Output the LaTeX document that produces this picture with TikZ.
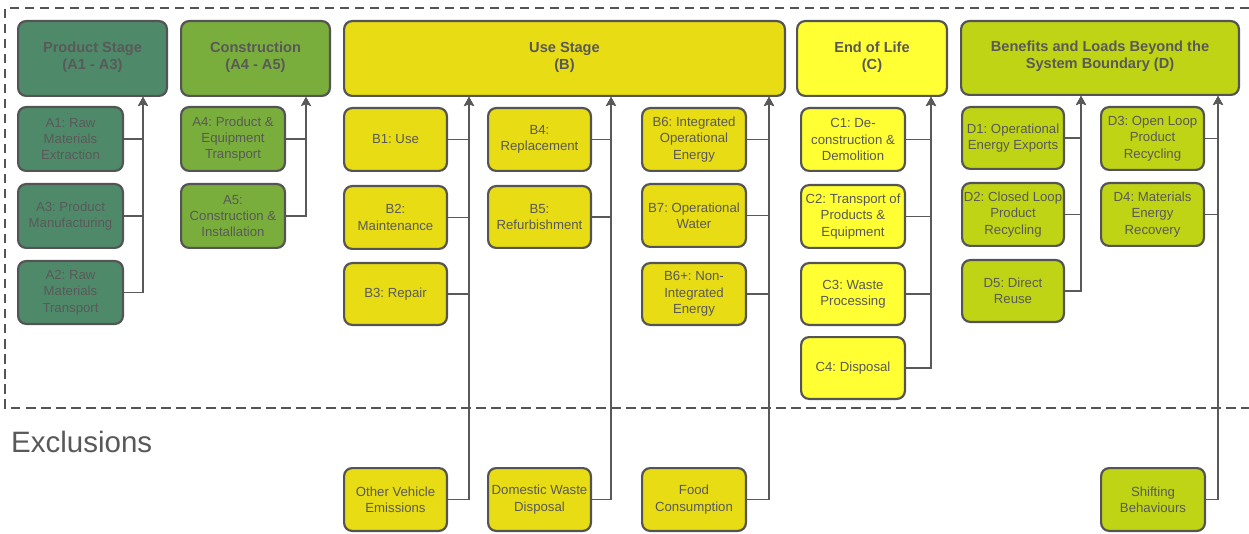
\documentclass[tikz,border=0pt]{standalone}
\usepackage{fontspec}
\setmainfont{Liberation Sans}
\usetikzlibrary{arrows.meta}
\frenchspacing
\definecolor{txt}{HTML}{595959}
\definecolor{edge}{HTML}{545454}
\definecolor{prod}{HTML}{4E8A6A}
\definecolor{cons}{HTML}{7AAE3C}
\definecolor{use}{HTML}{E8DC14}
\definecolor{eol}{HTML}{FFFF33}
\definecolor{ben}{HTML}{BFD414}
\newcommand\mybox[7]{%
  \pgfmathsetmacro\mbcx{(#2+#4)/2}%
  \pgfmathsetmacro\mbcy{(#3+#5)/2}%
  \pgfmathsetmacro\mbw{#4-#2-2.2}%
  \pgfmathsetmacro\mbh{#5-#3-2.2}%
  \node[#6,minimum width=\mbw pt,minimum height=\mbh pt] (#1) at (\mbcx,\mbcy) {#7};}
\tikzset{
  boxbase/.style={draw=edge,line width=2.2pt,rounded corners=8pt,align=center,text=txt,inner sep=1pt},
  item/.style={boxbase,font=\fontsize{13.2}{16.3}\selectfont},
  head/.style={boxbase,font=\bfseries\fontsize{14.6}{17}\selectfont,yshift=0pt},
  conn/.style={draw=txt,line width=1.1pt,-{Stealth[length=9pt,width=10pt,inset=2pt]}},
  bound/.style={draw=edge,line width=2.3pt,dash pattern=on 9.5pt off 5.5pt},
}
\begin{document}
\begin{tikzpicture}[x=1pt,y=-1pt]
\useasboundingbox (0,0) rectangle (1249,534);
% boundary
\draw[bound] (1249,8) -- (5,8) -- (5,408) -- (1249,408);
\node[anchor=base west,text=txt,font=\fontsize{29.5}{34}\selectfont,inner sep=0pt] (excl) at (11,452.5) {Exclusions};
% headers
\mybox{PS}{17}{20}{168}{97}{head,fill=prod}{Product Stage\\(A1 - A3)\rule[-6pt]{0pt}{6pt}}
\mybox{CO}{180}{20}{331}{97}{head,fill=cons}{Construction\\(A4 - A5)\rule[-6pt]{0pt}{6pt}}
\mybox{US}{343}{20}{786}{97}{head,fill=use}{Use Stage\\(B)\rule[-6pt]{0pt}{6pt}}
\mybox{EL}{796}{20}{948}{97}{head,fill=eol}{End of Life\\(C)\rule[-6pt]{0pt}{6pt}}
\mybox{BD}{960}{20}{1240}{96}{head,fill=ben}{Benefits and Loads Beyond the\\System Boundary (D)\rule[-6pt]{0pt}{6pt}}
% A
\mybox{A1}{17}{106}{124}{172}{item,fill=prod}{A1: Raw\\Materials\\Extraction}
\mybox{A3}{17}{183}{124}{249}{item,fill=prod}{A3: Product\\Manufacturing}
\mybox{A2}{17}{260}{124}{325}{item,fill=prod}{A2: Raw\\Materials\\Transport}
\mybox{A4}{180}{106}{286}{172}{item,fill=cons}{A4: Product \&\\Equipment\\Transport}
\mybox{A5}{180}{183}{286}{249}{item,fill=cons}{A5:\\Construction \&\\Installation}
% B
\mybox{B1}{343}{107}{448}{172}{item,fill=use}{B1: Use}
\mybox{B2}{343}{185}{448}{250}{item,fill=use}{B2:\\Maintenance}
\mybox{B3}{343}{262}{448}{326}{item,fill=use}{B3: Repair}
\mybox{B4}{487}{107}{592}{172}{item,fill=use}{B4:\\Replacement}
\mybox{B5}{487}{185}{592}{249}{item,fill=use}{B5:\\Refurbishment}
\mybox{B6}{641}{107}{747}{172}{item,fill=use}{B6: Integrated\\Operational\\Energy}
\mybox{B7}{641}{183}{747}{248}{item,fill=use}{B7: Operational\\Water}
\mybox{B6p}{641}{262}{747}{326}{item,fill=use}{B6+: Non-\\Integrated\\Energy}
\mybox{OV}{343}{467}{448}{532}{item,fill=use}{Other Vehicle\\Emissions}
\mybox{DW}{487}{467}{592}{532}{item,fill=use}{Domestic Waste\\Disposal}
\mybox{FC}{641}{467}{747}{532}{item,fill=use}{Food\\Consumption}
% C
\mybox{C1}{800}{107}{906}{172}{item,fill=eol}{C1: De-\\construction \&\\Demolition}
\mybox{C2}{800}{184}{906}{249}{item,fill=eol}{C2: Transport of\\Products \&\\Equipment}
\mybox{C3}{800}{262}{906}{326}{item,fill=eol}{C3: Waste\\Processing}
\mybox{C4}{800}{336}{906}{400}{item,fill=eol}{C4: Disposal}
% D
\mybox{D1}{961}{106}{1065}{170}{item,fill=ben}{D1: Operational\\Energy Exports}
\mybox{D2}{961}{182}{1065}{247}{item,fill=ben}{D2: Closed Loop\\Product\\Recycling}
\mybox{D5}{961}{259}{1065}{323}{item,fill=ben}{D5: Direct\\Reuse}
\mybox{D3}{1100}{106}{1205}{171}{item,fill=ben}{D3: Open Loop\\Product\\Recycling}
\mybox{D4}{1100}{182}{1205}{247}{item,fill=ben}{D4: Materials\\Energy\\Recovery}
\mybox{SB}{1100}{467}{1206}{532}{item,fill=ben}{Shifting\\Behaviours}
% bus coordinates
\coordinate (bA) at (143,0);
\coordinate (bC) at (306,0);
\coordinate (bB1) at (469,0);
\coordinate (bB2) at (611,0);
\coordinate (bB3) at (769,0);
\coordinate (bE) at (931,0);
\coordinate (bD1) at (1081,0);
\coordinate (bD2) at (1218,0);
% connectors
\foreach \n in {A1,A3,A2} \draw[conn] (\n.east) -| (bA |- PS.south);
\foreach \n in {A4,A5} \draw[conn] (\n.east) -| (bC |- CO.south);
\foreach \n in {B1,B2,B3,OV} \draw[conn] (\n.east) -| (bB1 |- US.south);
\foreach \n in {B4,B5,DW} \draw[conn] (\n.east) -| (bB2 |- US.south);
\foreach \n in {B6,B7,B6p,FC} \draw[conn] (\n.east) -| (bB3 |- US.south);
\foreach \n in {C1,C2,C3,C4} \draw[conn] (\n.east) -| (bE |- EL.south);
\foreach \n in {D1,D2,D5} \draw[conn] (\n.east) -| (bD1 |- BD.south);
\foreach \n in {D3,D4,SB} \draw[conn] (\n.east) -| (bD2 |- BD.south);
\end{tikzpicture}
\end{document}
